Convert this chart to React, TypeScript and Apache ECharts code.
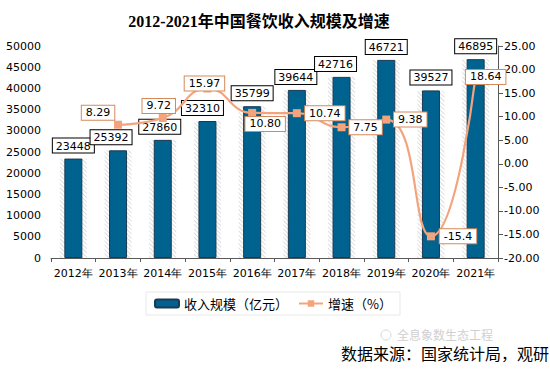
import React, { useEffect, useRef } from "react";
import * as echarts from "echarts";

const years = ["2012年", "2013年", "2014年", "2015年", "2016年", "2017年", "2018年", "2019年", "2020年", "2021年"];
const revenue = [23448, 25392, 27860, 32310, 35799, 39644, 42716, 46721, 39527, 46895];
const growth: (number | null)[] = [null, 8.29, 9.72, 15.97, 10.8, 10.74, 7.75, 9.38, -15.4, 18.64];
const growthLabels = ["", "8.29", "9.72", "15.97", "10.80", "10.74", "7.75", "9.38", "-15.4", "18.64"];
const growthLabelOffsets: number[][] = [[0, 0], [-20, -12], [-4, -12], [-3, -5], [13, 11], [28, 0], [24, 0], [24, 0], [27, 0], [10, 1]];
const barLabelOffsets: number[][] = [[0, 0], [-7, 0], [-3, 0], [-5, 0], [0, 0], [-1, 0], [-6, 0], [0, 0], [0, 0], [0, 0]];

const FONT = "'DejaVu Sans', Verdana, sans-serif";
const CJK = "'Noto Sans CJK SC', 'DejaVu Sans', sans-serif";

export default function App() {
  const ref = useRef<HTMLDivElement>(null);
  useEffect(() => {
    if (!ref.current) return;
    const chart = echarts.init(ref.current, undefined, { renderer: "svg" });
    const lineColor = "#F4A47C";
    chart.setOption({
      animation: false,
      backgroundColor: "#ffffff",
      title: {
        text: "2012-2021年中国餐饮收入规模及增速",
        left: 254,
        top: 8,
        textAlign: "center",
        textStyle: { fontFamily: "'Liberation Serif', 'Noto Sans CJK SC', serif", fontWeight: "bold", fontSize: 16, color: "#000" },
      },
      grid: { left: 51, right: 52, top: 46, bottom: 111 },
      legend: {
        data: ["收入规模（亿元）", "增速（%）"],
        left: 146,
        top: 292,
        borderColor: "#e8e8e8",
        borderWidth: 1,
        padding: [5, 8, 5, 8],
        itemWidth: 24,
        itemHeight: 8,
        itemGap: 10,
        textStyle: { fontFamily: CJK, fontSize: 13, color: "#000" },
      },
      xAxis: [
        {
          type: "category",
          data: years,
          axisLine: { lineStyle: { color: "#595959", width: 1 } },
          axisTick: { show: true, length: 4, lineStyle: { color: "#595959" } },
          axisLabel: { fontFamily: FONT, fontSize: 11, color: "#000", margin: 10, interval: 0 },
        },
        { type: "category", data: years, show: false },
      ],
      yAxis: [
        {
          type: "value",
          min: 0,
          max: 50000,
          interval: 5000,
          axisLine: { show: false },
          axisTick: { show: false },
          splitLine: { show: false },
          axisLabel: { fontFamily: FONT, fontSize: 11, color: "#000", margin: 10, formatter: (v: number) => String(v) },
        },
        {
          type: "value",
          min: -20,
          max: 25,
          interval: 5,
          position: "right",
          axisLine: { show: true, lineStyle: { color: "#595959" } },
          axisTick: { show: true, length: 5, lineStyle: { color: "#595959" } },
          splitLine: { show: false },
          axisLabel: { fontFamily: FONT, fontSize: 11, color: "#000", margin: 6, formatter: (v: number) => v.toFixed(2) },
        },
      ],
      series: [
        {
          name: "shadow",
          type: "bar",
          xAxisIndex: 1,
          yAxisIndex: 0,
          barWidth: 27,
          z: 1,
          silent: true,
          data: revenue,
          itemStyle: {
            color: "#ffffff",
            decal: {
              symbol: "rect",
              symbolSize: 1,
              dashArrayX: [1, 0],
              dashArrayY: [1, 2],
              rotation: Math.PI / 4,
              color: "rgba(170,170,170,0.4)",
            },
          },
        },
        {
          name: "收入规模（亿元）",
          type: "bar",
          xAxisIndex: 0,
          yAxisIndex: 0,
          barWidth: 18,
          z: 2,
          data: revenue.map((v, i) => ({
            value: v,
            label: { offset: barLabelOffsets[i] },
          })),
          itemStyle: { color: "#00628F", borderColor: "#1B3A52", borderWidth: 1 },
          label: {
            show: true,
            position: "top",
            distance: 6,
            fontFamily: FONT,
            fontSize: 11,
            color: "#000",
            backgroundColor: "#fff",
            borderColor: "#000",
            borderWidth: 1,
            padding: [2, 3, 1, 3],
          },
        },
        {
          name: "增速（%）",
          type: "line",
          yAxisIndex: 1,
          smooth: true,
          z: 5,
          symbol: "rect",
          symbolSize: 8,
          connectNulls: false,
          lineStyle: { color: lineColor, width: 2.2 },
          itemStyle: { color: lineColor },
          data: growth.map((v, i) => ({
            value: v,
            label: { offset: growthLabelOffsets[i], formatter: () => growthLabels[i] },
          })),
          label: {
            show: true,
            position: "inside",
            fontFamily: FONT,
            fontSize: 11,
            color: "#000",
            backgroundColor: "#fff",
            borderColor: "#D5895B",
            borderWidth: 1,
            padding: [2, 4, 1, 4],
          },
        },
      ],
      graphic: [
        {
          type: "circle",
          shape: { cx: 386, cy: 335, r: 5 },
          style: { fill: "none", stroke: "#d8d8d8", lineWidth: 1 },
        },
        {
          type: "text",
          x: 397,
          y: 334,
          style: { text: "全息象数生态工程", fontFamily: CJK, fontSize: 12, fill: "#d0d0d0", verticalAlign: "middle", align: "left" },
        },
        {
          type: "text",
          x: 549,
          y: 353,
          style: { text: "数据来源：国家统计局，观研", fontFamily: CJK, fontSize: 16, fill: "#000", verticalAlign: "middle", align: "right" },
        },
      ],
    });
    return () => chart.dispose();
  }, []);
  return <div ref={ref} style={{ position: "fixed", left: 0, top: 0, width: 550, height: 369 }} />;
}
